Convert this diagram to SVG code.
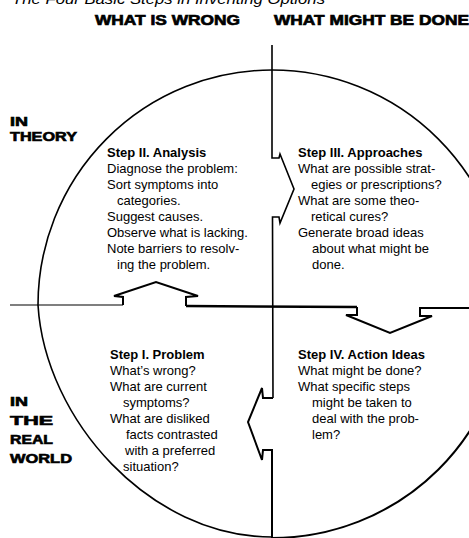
<svg xmlns="http://www.w3.org/2000/svg" width="469" height="538" viewBox="0 0 469 538">
<style>
.t{font-family:"Liberation Sans",Arial,sans-serif;font-size:13px;fill:#000}
.b{font-weight:bold}
.h{font-family:"Liberation Sans",Arial,sans-serif;font-weight:bold;font-size:15px;fill:#000;stroke:#000;stroke-width:0.7}
.s{font-family:"Liberation Sans",Arial,sans-serif;font-weight:bold;font-size:12px;fill:#000;stroke:#000;stroke-width:0.6}
.ln{fill:none;stroke:#000;stroke-linejoin:miter}
</style>
<rect width="469" height="538" fill="#fff"/>
<text x="12" y="4" font-family="Liberation Sans,Arial,sans-serif" font-style="italic" font-size="15" textLength="313" lengthAdjust="spacingAndGlyphs">The Four Basic Steps in Inventing Options</text>
<g id="headers">
<text class="h" x="95" y="25" textLength="145" lengthAdjust="spacingAndGlyphs">WHAT IS WRONG</text>
<text class="h" x="274" y="25" textLength="195" lengthAdjust="spacingAndGlyphs">WHAT MIGHT BE DONE</text>
<text class="s" x="10" y="126" textLength="18" lengthAdjust="spacingAndGlyphs">IN</text>
<text class="s" x="10" y="141" textLength="67" lengthAdjust="spacingAndGlyphs">THEORY</text>
<text class="s" x="10" y="406" textLength="18" lengthAdjust="spacingAndGlyphs">IN</text>
<text class="s" x="10" y="425" textLength="43" lengthAdjust="spacingAndGlyphs">THE</text>
<text class="s" x="10" y="444" textLength="43" lengthAdjust="spacingAndGlyphs">REAL</text>
<text class="s" x="10" y="463" textLength="62" lengthAdjust="spacingAndGlyphs">WORLD</text>
</g>
<g id="connectors">
<path class="ln" stroke-width="1.6" d="M 38 305 A 234 235 0 0 1 272 70 A 235 235 0 0 1 507 305"/>
<path class="ln" stroke-width="2" d="M 507 305 A 235 233 0 0 1 272 538"/>
<path class="ln" stroke-width="1.6" d="M 38 305 C 45 420 150 537 272 537"/>
<path class="ln" stroke-width="1.2" d="M 10 305 L 123 305"/>
<path class="ln" stroke-width="2" d="M 123 305 L 123 297 L 114 296 L 156 282 L 198 296 L 186 297 L 186 306"/>
<path class="ln" stroke-width="2.5" d="M 186 306 L 357 307"/>
<path class="ln" stroke-width="2" d="M 357 307 L 357 315 L 346 315 L 390 333 L 432 316 L 420 316 L 420 308 L 469 308"/>
<path class="ln" stroke-width="1.6" d="M 272 45 L 272 158 L 279 158 L 280 154 L 294 189 L 280 223 L 279 217 L 272.5 217 L 273 398"/>
<path class="ln" stroke-width="2" d="M 273 398 L 263 398 L 262 388 L 248 422 L 262 460 L 263 450 L 272 450 L 272 538"/>
</g>
<g id="step2">
<text class="t b" x="107" y="157">Step II. Analysis</text>
<text class="t" x="107" y="173">Diagnose the problem:</text>
<text class="t" x="107" y="189">Sort symptoms into</text>
<text class="t" x="117" y="205">categories.</text>
<text class="t" x="107" y="221">Suggest causes.</text>
<text class="t" x="107" y="237">Observe what is lacking.</text>
<text class="t" x="107" y="253">Note barriers to resolv-</text>
<text class="t" x="117" y="269">ing the problem.</text>
</g>
<g id="step3">
<text class="t b" x="298" y="157">Step III. Approaches</text>
<text class="t" x="298" y="173">What are possible strat-</text>
<text class="t" x="311" y="189">egies or prescriptions?</text>
<text class="t" x="298" y="205">What are some theo-</text>
<text class="t" x="311" y="221">retical cures?</text>
<text class="t" x="298" y="237">Generate broad ideas</text>
<text class="t" x="312" y="253">about what might be</text>
<text class="t" x="312" y="269">done.</text>
</g>
<g id="step1">
<text class="t b" x="110" y="359">Step I. Problem</text>
<text class="t" x="110" y="375">What’s wrong?</text>
<text class="t" x="110" y="391">What are current</text>
<text class="t" x="123" y="407">symptoms?</text>
<text class="t" x="110" y="423">What are disliked</text>
<text class="t" x="126" y="439">facts contrasted</text>
<text class="t" x="125" y="455">with a preferred</text>
<text class="t" x="123" y="471">situation?</text>
</g>
<g id="step4">
<text class="t b" x="298" y="359">Step IV. Action Ideas</text>
<text class="t" x="298" y="375">What might be done?</text>
<text class="t" x="298" y="391">What specific steps</text>
<text class="t" x="312" y="407">might be taken to</text>
<text class="t" x="312" y="423">deal with the prob-</text>
<text class="t" x="312" y="439">lem?</text>
</g>
</svg>
